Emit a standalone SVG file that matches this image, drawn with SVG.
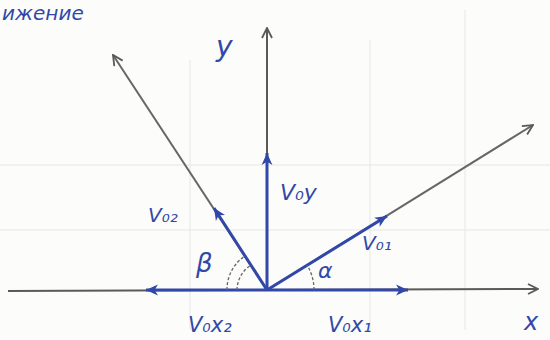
<svg xmlns="http://www.w3.org/2000/svg" width="550" height="340" viewBox="0 0 550 340">
<defs>
<marker id="gh" viewBox="0 0 12 12" refX="11" refY="6" markerWidth="12" markerHeight="12" markerUnits="userSpaceOnUse" orient="auto">
<path d="M1,1 L11,6 L1,11" fill="none" stroke="#5a5a5a" stroke-width="1.8"/>
</marker>
<marker id="bh" viewBox="0 0 12 12" refX="11" refY="6" markerWidth="13" markerHeight="13" markerUnits="userSpaceOnUse" orient="auto">
<path d="M0,1 L11,6 L0,11 L3,6 Z" fill="#3248a8"/>
</marker>
<style>
.ax{stroke:#5a5a5a;stroke-width:2;fill:none}
.gl{stroke:#666;stroke-width:2;fill:none}
.bv{stroke:#3248a8;stroke-width:3;fill:none}
.arc{stroke:#666;stroke-width:1.3;fill:none;stroke-dasharray:3 2}
.grid{stroke:#e6e6e6;stroke-width:1}
.lb{font-family:"DejaVu Sans","Liberation Sans",sans-serif;font-style:italic;fill:#3248a8}
</style>
</defs>
<rect width="550" height="340" fill="#fcfcfa"/>
<g id="grid">
<line class="grid" x1="190" y1="60" x2="190" y2="330"/>
<line class="grid" x1="370" y1="40" x2="370" y2="330"/>
<line class="grid" x1="465" y1="10" x2="465" y2="330"/>
<line class="grid" x1="0" y1="165" x2="550" y2="165"/>
<line class="grid" x1="0" y1="230" x2="550" y2="230"/>
</g>
<g id="connectors">
<line class="ax" x1="8" y1="291" x2="538" y2="289" marker-end="url(#gh)"/>
<line class="ax" x1="267" y1="290" x2="267" y2="28" marker-end="url(#gh)"/>
<line class="gl" x1="267" y1="290" x2="113" y2="55" marker-end="url(#gh)"/>
<line class="gl" x1="267" y1="290" x2="533" y2="125" marker-end="url(#gh)"/>
<line class="bv" x1="267" y1="290" x2="267" y2="153" marker-end="url(#bh)"/>
<line class="bv" x1="267" y1="290" x2="214" y2="208" marker-end="url(#bh)"/>
<line class="bv" x1="267" y1="290" x2="387" y2="216" marker-end="url(#bh)"/>
<line class="bv" x1="267" y1="290" x2="408" y2="290" marker-end="url(#bh)"/>
<line class="bv" x1="267" y1="290" x2="146" y2="290" marker-end="url(#bh)"/>
<path class="arc" d="M314,290 A47,47 0 0 0 307,265"/>
<path class="arc" d="M227,290 A40,40 0 0 1 245,256"/>
<path class="arc" d="M237,290 A30,30 0 0 1 251,265"/>
</g>
<g id="labels">
<text class="lb" x="2" y="20" font-size="20">ижение</text>
<text class="lb" x="216" y="56" font-size="28">y</text>
<text class="lb" x="524" y="330" font-size="24">x</text>
<text class="lb" x="148" y="222" font-size="20">V₀₂</text>
<text class="lb" x="280" y="200" font-size="22">V₀y</text>
<text class="lb" x="362" y="250" font-size="20">V₀₁</text>
<text class="lb" x="318" y="278" font-size="22">α</text>
<text class="lb" x="196" y="272" font-size="26">β</text>
<text class="lb" x="188" y="332" font-size="21">V₀x₂</text>
<text class="lb" x="328" y="332" font-size="21">V₀x₁</text>
</g>
</svg>
